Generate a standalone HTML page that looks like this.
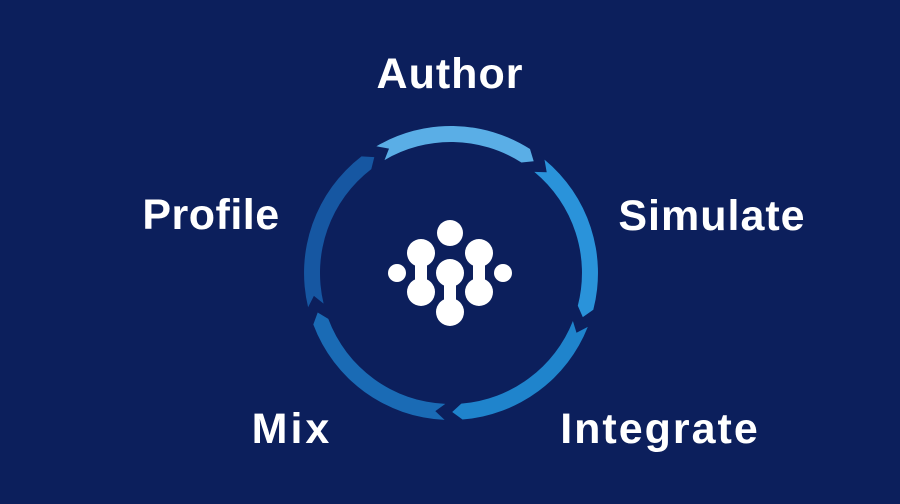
<!DOCTYPE html>
<html><head><meta charset="utf-8"><style>
html,body{margin:0;padding:0;background:#0c1f5c;}
svg{display:block}
text{font-family:"Liberation Sans",sans-serif;font-weight:bold;fill:#fff;font-size:43px}
</style></head><body>
<svg id="s" width="900" height="504" viewBox="0 0 900 504">
<rect width="900" height="504" fill="#0c1f5c"/>
<g id="ring"></g>
<g fill="#fff">
<circle cx="450" cy="233" r="13"/>
<circle cx="397" cy="273" r="9"/>
<circle cx="503" cy="273" r="9"/>
<circle cx="421" cy="253" r="14"/><circle cx="421" cy="292" r="14"/>
<rect x="415" y="253" width="12" height="39"/>
<circle cx="450" cy="273" r="14"/><circle cx="450" cy="312" r="14"/>
<rect x="444" y="273" width="12" height="39"/>
<circle cx="479" cy="253" r="14"/><circle cx="479" cy="292" r="14"/>
<rect x="473" y="253" width="12" height="39"/>
</g>
<text x="450" y="88" text-anchor="middle" font-size="42" letter-spacing="1">Author</text>
<text x="712" y="230" text-anchor="middle" letter-spacing="1">Simulate</text>
<text x="211" y="229" text-anchor="middle" letter-spacing="0.5">Profile</text>
<text x="292" y="443" text-anchor="middle" letter-spacing="3">Mix</text>
<text x="660" y="443" text-anchor="middle" letter-spacing="2">Integrate</text>
</svg>
<script>
(function(){
var cx=451,cy=273,ro=147,ri=131,rm=(ro+ri)/2;
var cols=["#5aaee6","#2a93da","#1f84cc","#1a6bb5","#1657a2"];
var gaps=[-122,-52,20,91,165];
var g=document.getElementById("ring"),h="";
function p(r,a){a=a*Math.PI/180;return (cx+r*Math.cos(a)).toFixed(1)+","+(cy+r*Math.sin(a)).toFixed(1);}
for(var i=0;i<5;i++){
 var a0=gaps[i]+1.5, a1=gaps[(i+1)%5]-1.5; if(a1<a0)a1+=360;
 var tip=4;
 var d="M"+p(ro,a0)+" A"+ro+","+ro+" 0 0 1 "+p(ro,a1-tip)+" L"+p(rm,a1)+" L"+p(ri,a1-tip)+
 " A"+ri+","+ri+" 0 0 0 "+p(ri,a0)+" L"+p(rm,a0+tip)+" Z";
 h+='<path d="'+d+'" fill="'+cols[i]+'"/>';
}
g.innerHTML=h;
})();
</script>
</body></html>
